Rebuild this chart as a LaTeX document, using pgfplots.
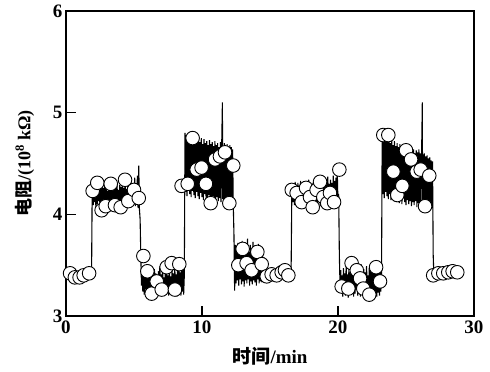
\documentclass[border=0pt]{standalone}
\usepackage{fontspec}
\setmainfont{Liberation Serif}
\newfontfamily\cjk{Noto Sans CJK SC}
\usepackage{pgfplots}
\pgfplotsset{compat=1.18}
\begin{document}
\begin{tikzpicture}
\begin{axis}[
  scale only axis, width=408pt, height=305pt,
  at={(0,0)}, anchor=south west,
  xmin=0, xmax=30, ymin=3, ymax=6,
  xtick={0,10,20,30}, ytick={3,4,5,6},
  xtick pos=bottom, ytick pos=left,
  tick align=inside, major tick length=10pt,
  minor tick num=0,
  axis line style={line width=1.6pt},
  every tick/.style={line width=1.2pt, black},
  /pgf/number format/assume math mode=true,
  ticklabel style={font=\fontsize{19}{21}\selectfont\bfseries},
  xticklabel style={yshift=-1pt},
  xlabel={{\cjk\bfseries 时间}/min},
  ylabel={{\cjk\bfseries 电阻}/(10\textsuperscript{8} kΩ)},
  xlabel style={font=\fontsize{19}{21}\selectfont\bfseries, yshift=-7pt},
  ylabel style={font=\fontsize{18}{20}\selectfont\bfseries, yshift=12pt},
]
\addplot[black, line width=1.1pt, mark=none] coordinates {
(0,3.40)(0.5,3.39)(1.0,3.40)(1.5,3.41)(1.88,3.40)(1.92,4.15)
(1.95,4.27)(2.00,4.09)(2.05,4.30)(2.10,4.12)(2.15,4.25)(2.20,4.06)(2.25,4.31)(2.30,4.10)(2.35,4.28)(2.40,4.13)
(2.45,4.24)(2.50,4.07)(2.55,4.29)(2.60,4.11)(2.65,4.32)(2.70,4.08)(2.75,4.26)(2.80,4.14)(2.85,4.30)(2.90,4.05)
(2.95,4.27)(3.00,4.10)(3.05,4.23)(3.10,4.12)(3.15,4.29)(3.20,4.07)(3.25,4.31)(3.30,4.11)(3.35,4.25)(3.40,4.09)
(3.45,4.28)(3.50,4.13)(3.55,4.33)(3.60,4.06)(3.65,4.26)(3.70,4.10)(3.75,4.30)(3.80,4.12)(3.85,4.24)(3.90,4.08)
(3.95,4.29)(4.00,4.11)(4.05,4.27)(4.10,4.05)(4.15,4.32)(4.20,4.10)(4.25,4.26)(4.30,4.13)(4.35,4.30)(4.40,4.08)
(4.45,4.25)(4.50,4.12)(4.55,4.31)(4.60,4.09)(4.65,4.28)(4.70,4.11)(4.75,4.34)(4.80,4.07)(4.85,4.27)(4.90,4.12)
(4.95,4.30)(5.00,4.10)(5.05,4.36)(5.10,4.08)(5.15,4.29)(5.20,4.13)(5.25,4.38)(5.30,4.06)(5.35,4.48)(5.40,4.05)
(5.45,3.95)(5.50,3.60)(5.55,3.30)
(5.60,3.42)(5.65,3.24)(5.70,3.47)(5.75,3.21)(5.80,3.40)(5.85,3.26)(5.90,3.45)(5.95,3.22)(6.00,3.38)(6.05,3.25)
(6.10,3.44)(6.15,3.20)(6.20,3.41)(6.25,3.27)(6.30,3.48)(6.35,3.23)(6.40,3.39)(6.45,3.21)(6.50,3.46)(6.55,3.26)
(6.60,3.42)(6.65,3.22)(6.70,3.37)(6.75,3.25)(6.80,3.44)(6.85,3.20)(6.90,3.49)(6.95,3.24)(7.00,3.41)(7.05,3.22)
(7.10,3.45)(7.15,3.27)(7.20,3.38)(7.25,3.21)(7.30,3.43)(7.35,3.25)(7.40,3.47)(7.45,3.23)(7.50,3.40)(7.55,3.20)
(7.60,3.44)(7.65,3.26)(7.70,3.39)(7.75,3.22)(7.80,3.46)(7.85,3.24)(7.90,3.42)(7.95,3.21)(8.00,3.48)(8.05,3.25)
(8.10,3.41)(8.15,3.19)(8.20,3.45)(8.25,3.23)(8.30,3.50)(8.35,3.22)(8.40,3.43)(8.45,3.20)(8.50,3.47)(8.55,3.24)
(8.60,3.52)(8.65,3.21)(8.70,3.40)
(8.75,4.80)(8.80,4.22)(8.85,4.78)(8.90,4.18)(8.95,4.75)(9.00,4.25)(9.05,4.80)(9.10,4.20)(9.15,4.72)(9.20,4.17)
(9.25,4.77)(9.30,4.23)(9.35,4.74)(9.40,4.19)(9.45,4.78)(9.50,4.16)(9.55,4.70)(9.60,4.22)(9.65,4.76)(9.70,4.18)
(9.75,4.73)(9.80,4.15)(9.85,4.71)(9.90,4.21)(9.95,4.75)(10.00,4.17)(10.05,4.69)(10.10,4.14)(10.15,4.74)(10.20,4.20)
(10.25,4.70)(10.30,4.16)(10.35,4.72)(10.40,4.13)(10.45,4.68)(10.50,4.19)(10.55,4.73)(10.60,4.15)(10.65,4.69)(10.70,4.12)
(10.75,4.71)(10.80,4.18)(10.85,4.67)(10.90,4.14)(10.95,4.72)(11.00,4.11)(11.05,4.68)(11.10,4.17)(11.15,4.70)(11.20,4.13)
(11.25,4.66)(11.30,4.16)(11.35,4.71)(11.40,4.12)(11.45,4.69)(11.50,5.10)(11.52,4.15)(11.55,4.67)(11.60,4.11)(11.65,4.70)
(11.70,4.14)(11.75,4.66)(11.80,4.10)(11.85,4.69)(11.90,4.15)(11.95,4.65)(12.00,4.12)(12.05,4.68)(12.10,4.09)(12.15,4.66)
(12.20,4.13)(12.25,4.64)(12.30,4.10)(12.35,3.80)(12.40,3.25)
(12.45,3.70)(12.50,3.32)(12.55,3.66)(12.60,3.35)(12.65,3.72)(12.70,3.30)(12.75,3.64)(12.80,3.36)(12.85,3.69)(12.90,3.31)
(12.95,3.74)(13.00,3.34)(13.05,3.65)(13.10,3.29)(13.15,3.71)(13.20,3.35)(13.25,3.67)(13.30,3.32)(13.35,3.76)(13.40,3.36)
(13.45,3.63)(13.50,3.30)(13.55,3.70)(13.60,3.34)(13.65,3.66)(13.70,3.31)(13.75,3.73)(13.80,3.35)(13.85,3.64)(13.90,3.33)
(13.95,3.69)(14.00,3.30)(14.05,3.67)(14.10,3.36)(14.15,3.71)(14.20,3.32)(14.25,3.65)(14.30,3.34)(14.35,3.68)(14.40,3.33)
(14.45,3.63)(14.50,3.36)(14.55,3.58)(14.60,3.40)
(14.8,3.40)(15.5,3.39)(16.0,3.41)(16.55,3.40)(16.60,4.15)
(16.65,4.30)(16.70,4.12)(16.75,4.27)(16.80,4.09)(16.85,4.32)(16.90,4.14)(16.95,4.26)(17.00,4.10)(17.05,4.31)(17.10,4.13)
(17.15,4.28)(17.20,4.08)(17.25,4.33)(17.30,4.12)(17.35,4.25)(17.40,4.10)(17.45,4.30)(17.50,4.14)(17.55,4.27)(17.60,4.09)
(17.65,4.32)(17.70,4.11)(17.75,4.26)(17.80,4.13)(17.85,4.34)(17.90,4.08)(17.95,4.29)(18.00,4.12)(18.05,4.27)(18.10,4.10)
(18.15,4.31)(18.20,4.14)(18.25,4.28)(18.30,4.09)(18.35,4.35)(18.40,4.12)(18.45,4.26)(18.50,4.10)(18.55,4.30)(18.60,4.13)
(18.65,4.33)(18.70,4.08)(18.75,4.28)(18.80,4.12)(18.85,4.36)(18.90,4.10)(18.95,4.27)(19.00,4.14)(19.05,4.32)(19.10,4.09)
(19.15,4.29)(19.20,4.12)(19.25,4.37)(19.30,4.10)(19.35,4.30)(19.40,4.13)(19.45,4.34)(19.50,4.08)(19.55,4.31)(19.60,4.12)
(19.65,4.38)(19.70,4.10)(19.75,4.33)(19.80,4.14)(19.85,4.36)(19.90,4.09)(19.95,4.40)(20.00,4.10)(20.05,4.20)(20.10,3.60)
(20.15,3.30)
(20.20,3.45)(20.25,3.22)(20.30,3.40)(20.35,3.19)(20.40,3.47)(20.45,3.24)(20.50,3.42)(20.55,3.20)(20.60,3.49)(20.65,3.23)
(20.70,3.41)(20.75,3.18)(20.80,3.46)(20.85,3.25)(20.90,3.43)(20.95,3.21)(21.00,3.50)(21.05,3.24)(21.10,3.40)(21.15,3.19)
(21.20,3.47)(21.25,3.22)(21.30,3.44)(21.35,3.26)(21.40,3.48)(21.45,3.20)(21.50,3.41)(21.55,3.23)(21.60,3.45)(21.65,3.19)
(21.70,3.51)(21.75,3.24)(21.80,3.42)(21.85,3.21)(21.90,3.46)(21.95,3.25)(22.00,3.43)(22.05,3.20)(22.10,3.49)(22.15,3.23)
(22.20,3.40)(22.25,3.18)(22.30,3.47)(22.35,3.22)(22.40,3.44)(22.45,3.25)(22.50,3.52)(22.55,3.20)(22.60,3.42)(22.65,3.24)
(22.70,3.48)(22.75,3.21)(22.80,3.45)(22.85,3.19)(22.90,3.50)(22.95,3.23)(23.00,3.43)(23.05,3.20)(23.10,3.47)(23.15,3.24)
(23.20,3.40)
(23.25,4.78)(23.30,4.20)(23.35,4.76)(23.40,4.16)(23.45,4.74)(23.50,4.22)(23.55,4.77)(23.60,4.18)(23.65,4.72)(23.70,4.15)
(23.75,4.75)(23.80,4.20)(23.85,4.70)(23.90,4.14)(23.95,4.73)(24.00,4.19)(24.05,4.68)(24.10,4.13)(24.15,4.72)(24.20,4.17)
(24.25,4.67)(24.30,4.12)(24.35,4.70)(24.40,4.18)(24.45,4.66)(24.50,4.11)(24.55,4.69)(24.60,4.15)(24.65,4.65)(24.70,4.10)
(24.75,4.68)(24.80,4.16)(24.85,4.64)(24.90,4.12)(24.95,4.67)(25.00,4.09)(25.05,4.63)(25.10,4.14)(25.15,4.66)(25.20,4.10)
(25.25,4.62)(25.30,4.13)(25.35,4.65)(25.40,4.08)(25.45,4.61)(25.50,4.12)(25.55,4.64)(25.60,4.09)(25.65,4.60)(25.70,4.13)
(25.75,4.63)(25.80,4.07)(25.85,4.61)(25.90,4.11)(25.95,4.64)(26.00,4.08)(26.05,4.60)(26.10,4.12)(26.15,4.62)(26.20,5.10)
(26.22,4.10)(26.25,4.59)(26.30,4.06)(26.35,4.60)(26.40,4.10)(26.45,4.57)(26.50,4.07)(26.55,4.58)(26.60,4.11)(26.65,4.55)
(26.70,4.05)(26.75,4.56)(26.80,4.09)(26.85,4.53)(26.90,4.06)(26.95,4.52)(27.00,3.60)(27.05,3.40)
(27.5,3.41)(28.0,3.42)(28.7,3.42)
};
\addplot[only marks, mark=*, mark size=6.8pt, mark options={fill=white, draw=black, line width=0.9pt}] coordinates {
(0.3,3.42)(0.65,3.38)(1.0,3.38)(1.3,3.40)(1.7,3.42)
(1.96,4.23)(2.3,4.31)(2.62,4.04)(2.92,4.08)(3.29,4.30)(3.6,4.09)(4.02,4.07)(4.34,4.34)(4.58,4.13)(5.0,4.24)(5.35,4.16)
(5.69,3.59)(5.98,3.44)(6.3,3.22)(6.67,3.34)(7.04,3.26)(7.4,3.48)(7.77,3.52)(8.01,3.26)(8.33,3.51)
(8.5,4.28)(8.95,4.30)(9.31,4.75)(9.61,4.44)(9.97,4.46)(10.29,4.30)(10.64,4.11)(10.96,4.54)(11.32,4.57)(11.69,4.61)(12.01,4.11)(12.3,4.48)
(12.67,3.50)(12.99,3.66)(13.28,3.52)(13.65,3.45)(14.07,3.63)(14.39,3.51)
(14.76,3.39)(15.12,3.41)(15.49,3.40)(15.86,3.43)(16.1,3.45)(16.35,3.40)
(16.6,4.24)(16.96,4.21)(17.33,4.12)(17.65,4.26)(17.94,4.17)(18.14,4.07)(18.43,4.24)(18.68,4.32)(18.92,4.17)(19.21,4.11)(19.41,4.21)(19.71,4.12)(20.1,4.44)
(20.27,3.29)(20.76,3.27)(21.0,3.52)(21.38,3.45)(21.62,3.37)(21.86,3.27)(22.3,3.21)(22.8,3.48)(23.09,3.34)
(23.33,4.78)(23.7,4.78)(24.07,4.42)(24.36,4.19)(24.73,4.28)(25.0,4.63)(25.37,4.54)(25.79,4.42)(26.08,4.44)(26.4,4.08)(26.71,4.38)
(27.0,3.40)(27.38,3.42)(27.74,3.42)(28.11,3.43)(28.43,3.44)(28.77,3.43)
};
\end{axis}
\pgfresetboundingbox
\path (-66pt,-56pt) rectangle (424pt,316pt);
\end{tikzpicture}
\end{document}
